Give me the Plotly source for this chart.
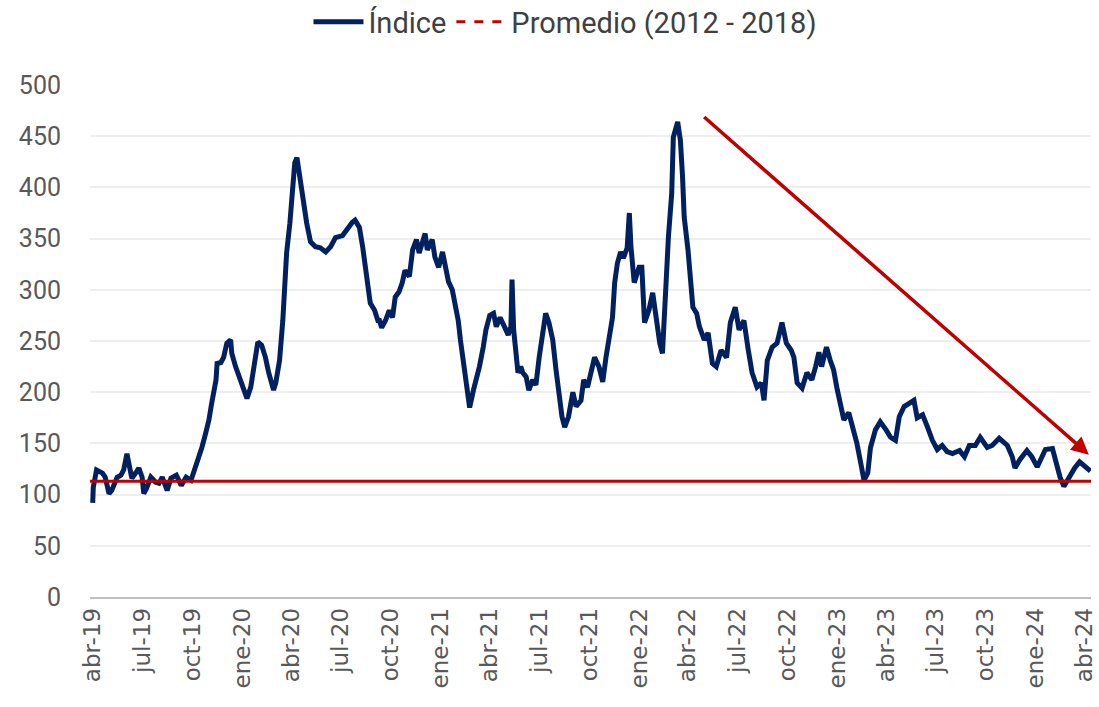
import plotly.graph_objects as go

# ---------------- data ----------------
fechas = [
    "2019-04-01", "2019-04-02", "2019-04-08", "2019-04-19", "2019-04-24", "2019-05-01", "2019-05-06",
    "2019-05-16", "2019-05-23", "2019-05-28", "2019-06-03", "2019-06-07", "2019-06-12", "2019-06-19",
    "2019-06-25", "2019-07-01", "2019-07-04", "2019-07-09", "2019-07-17", "2019-07-26", "2019-08-01",
    "2019-08-07", "2019-08-16", "2019-08-23", "2019-09-02", "2019-09-11", "2019-09-20", "2019-09-29",
    "2019-10-04", "2019-10-13", "2019-10-19", "2019-10-26", "2019-11-01", "2019-11-06", "2019-11-14",
    "2019-11-16", "2019-11-23", "2019-11-28", "2019-12-04", "2019-12-11", "2019-12-13", "2019-12-20",
    "2019-12-26", "2020-01-04", "2020-01-10", "2020-01-17", "2020-01-22", "2020-01-30", "2020-02-06",
    "2020-02-13", "2020-02-19", "2020-02-28", "2020-03-03", "2020-03-10", "2020-03-16", "2020-03-19",
    "2020-03-23", "2020-03-29", "2020-04-02", "2020-04-07", "2020-04-11", "2020-04-14", "2020-04-18",
    "2020-04-23", "2020-04-29", "2020-05-06", "2020-05-15", "2020-05-24", "2020-06-03", "2020-06-12",
    "2020-06-21", "2020-07-04", "2020-07-13", "2020-07-22", "2020-07-27", "2020-08-04", "2020-08-10",
    "2020-08-15", "2020-08-19", "2020-08-24", "2020-09-01", "2020-09-07", "2020-09-10", "2020-09-14",
    "2020-09-21", "2020-09-28", "2020-10-04", "2020-10-09", "2020-10-16", "2020-10-22", "2020-10-27",
    "2020-11-04", "2020-11-10", "2020-11-17", "2020-11-22", "2020-11-28", "2020-12-03", "2020-12-07",
    "2020-12-16", "2020-12-21", "2020-12-28", "2021-01-04", "2021-01-09", "2021-01-15", "2021-01-22",
    "2021-01-27", "2021-02-02", "2021-02-06", "2021-02-11", "2021-02-15", "2021-02-21", "2021-02-23",
    "2021-03-02", "2021-03-07", "2021-03-13", "2021-03-20", "2021-03-25", "2021-04-01", "2021-04-08",
    "2021-04-13", "2021-04-20", "2021-04-28", "2021-05-05", "2021-05-10", "2021-05-12", "2021-05-15",
    "2021-05-19", "2021-05-23", "2021-05-28", "2021-06-01", "2021-06-07", "2021-06-12", "2021-06-19",
    "2021-06-25", "2021-07-01", "2021-07-06", "2021-07-13", "2021-07-19", "2021-07-26", "2021-08-01",
    "2021-08-06", "2021-08-12", "2021-08-17", "2021-08-24", "2021-09-01", "2021-09-07", "2021-09-16",
    "2021-09-21", "2021-09-28", "2021-10-04", "2021-10-11", "2021-10-19", "2021-10-26", "2021-11-01",
    "2021-11-06", "2021-11-13", "2021-11-17", "2021-11-22", "2021-11-28", "2021-12-03", "2021-12-10",
    "2021-12-14", "2021-12-17", "2021-12-23", "2022-01-01", "2022-01-06", "2022-01-11", "2022-01-19",
    "2022-01-26", "2022-02-01", "2022-02-08", "2022-02-13", "2022-02-17", "2022-02-20", "2022-02-24",
    "2022-03-02", "2022-03-05", "2022-03-13", "2022-03-18", "2022-03-22", "2022-03-25", "2022-04-01",
    "2022-04-06", "2022-04-10", "2022-04-17", "2022-04-22", "2022-05-01", "2022-05-08", "2022-05-16",
    "2022-05-23", "2022-06-01", "2022-06-11", "2022-06-18", "2022-06-27", "2022-07-04", "2022-07-13",
    "2022-07-21", "2022-07-28", "2022-08-06", "2022-08-14", "2022-08-19", "2022-08-25", "2022-09-03",
    "2022-09-12", "2022-09-21", "2022-09-29", "2022-10-08", "2022-10-13", "2022-10-19", "2022-10-28",
    "2022-11-06", "2022-11-15", "2022-11-22", "2022-11-28", "2022-12-03", "2022-12-12", "2022-12-19",
    "2022-12-25", "2023-01-01", "2023-01-08", "2023-01-13", "2023-01-22", "2023-01-30", "2023-02-06",
    "2023-02-13", "2023-02-19", "2023-02-26", "2023-03-03", "2023-03-12", "2023-03-21", "2023-04-01",
    "2023-04-09", "2023-04-18", "2023-04-25", "2023-05-04", "2023-05-13", "2023-05-22", "2023-05-28",
    "2023-06-07", "2023-06-16", "2023-06-25", "2023-07-04", "2023-07-13", "2023-07-22", "2023-08-01",
    "2023-08-14", "2023-08-23", "2023-09-01", "2023-09-12", "2023-09-21", "2023-10-04", "2023-10-13",
    "2023-10-26", "2023-11-10", "2023-11-19", "2023-11-24", "2023-12-03", "2023-12-16", "2023-12-25",
    "2024-01-04", "2024-01-13", "2024-01-19", "2024-02-01", "2024-02-06", "2024-02-15", "2024-02-22",
    "2024-03-02", "2024-03-13", "2024-03-22", "2024-04-04", "2024-04-11",
]
indice = [
    92, 107, 124, 121, 117, 101, 104,
    117, 119, 124, 140, 130, 116, 121,
    126, 117, 101, 106, 117, 112, 111,
    117, 104, 116, 119, 109, 117, 114,
    122, 134, 146, 160, 173, 189, 212,
    228, 229, 234, 248, 251, 238, 225,
    215, 204, 194, 205, 225, 249, 246,
    234, 219, 202, 209, 231, 270, 297,
    336, 365, 394, 424, 429, 417, 400,
    388, 365, 347, 342, 341, 337, 342,
    351, 353, 360, 366, 368, 361, 342,
    319, 300, 287, 280, 270, 270, 263,
    270, 280, 273, 293, 298, 307, 319,
    313, 339, 349, 336, 346, 355, 339,
    349, 332, 322, 337, 322, 308, 300,
    287, 270, 251, 231, 215, 199, 185,
    202, 212, 225, 244, 261, 275, 277,
    264, 273, 264, 256, 264, 310, 261,
    244, 219, 225, 219, 215, 202, 212,
    207, 234, 254, 277, 268, 251, 222,
    199, 176, 166, 176, 200, 186, 192,
    212, 205, 219, 234, 225, 210, 234,
    251, 273, 307, 326, 337, 331, 341,
    375, 342, 307, 322, 322, 268, 280,
    297, 273, 248, 238, 277, 322, 352,
    394, 449, 464, 446, 410, 371, 339,
    303, 283, 277, 264, 251, 258, 228,
    225, 241, 234, 268, 283, 261, 270,
    241, 219, 205, 209, 192, 231, 244,
    248, 268, 248, 241, 234, 209, 204,
    219, 212, 225, 239, 225, 244, 231,
    222, 202, 183, 173, 180, 166, 150,
    131, 114, 121, 146, 163, 171, 163,
    156, 153, 176, 186, 189, 192, 175,
    178, 166, 153, 144, 148, 142, 140,
    143, 137, 148, 148, 156, 146, 148,
    155, 148, 137, 126, 134, 143, 137,
    127, 139, 144, 145, 135, 117, 108,
    117, 126, 132, 126, 123,
]

promedio_valor = 113
nombre_indice = "Índice"
nombre_promedio = "Promedio (2012 - 2018)"

tick_fechas = [
    "2019-04-01", "2019-07-01", "2019-10-01", "2020-01-01", "2020-04-01", "2020-07-01",
    "2020-10-01", "2021-01-01", "2021-04-01", "2021-07-01", "2021-10-01", "2022-01-01",
    "2022-04-01", "2022-07-01", "2022-10-01", "2023-01-01", "2023-04-01", "2023-07-01",
    "2023-10-01", "2024-01-01", "2024-04-01",
]
tick_labels = [
    "abr-19", "jul-19", "oct-19", "ene-20", "abr-20", "jul-20", "oct-20", "ene-21",
    "abr-21", "jul-21", "oct-21", "ene-22", "abr-22", "jul-22", "oct-22", "ene-23",
    "abr-23", "jul-23", "oct-23", "ene-24", "abr-24",
]
y_ticks = [0, 50, 100, 150, 200, 250, 300, 350, 400, 450, 500]

x_inicio = "2019-03-27"
x_fin = "2024-04-12"

NAVY = "#002060"
RED = "#C00000"
FONT = "Roboto, sans-serif"

fig = go.Figure()

fig.add_trace(go.Scatter(
    x=fechas, y=indice, mode="lines", name=nombre_indice,
    line=dict(color=NAVY, width=5), showlegend=True,
))
# legend entry for the average (dashed in legend)
fig.add_trace(go.Scatter(
    x=[None], y=[None], mode="lines", name=nombre_promedio,
    line=dict(color=RED, width=3, dash="dash"), showlegend=True,
))
fig.add_trace(go.Scatter(
    x=[x_inicio, x_fin], y=[promedio_valor, promedio_valor], mode="lines",
    name=nombre_promedio, line=dict(color=RED, width=3), showlegend=False,
))

fig.add_annotation(
    x="2024-04-08", y=139, ax="2022-04-28", ay=470,
    xref="x", yref="y", axref="x", ayref="y",
    showarrow=True, arrowhead=2, arrowsize=1, arrowwidth=3.5, arrowcolor=RED, text="",
)

fig.update_layout(
    width=1099, height=707,
    margin=dict(l=90, r=8, t=85, b=110, autoexpand=False),
    paper_bgcolor="white", plot_bgcolor="white",
    font=dict(family=FONT, color="#595959"),
    legend=dict(
        orientation="h", x=0.475, xanchor="center", y=1.123, yanchor="middle",
        font=dict(size=29, color="#404040", family=FONT), itemwidth=50,
        bgcolor="rgba(0,0,0,0)",
    ),
)
fig.update_xaxes(
    range=[x_inicio, x_fin], tickmode="array", tickvals=tick_fechas, ticktext=tick_labels,
    tickangle=-90, tickfont=dict(size=23, color="#595959", family="DejaVu Sans, sans-serif"),
    showgrid=False, showline=True, linecolor="#BFBFBF", linewidth=1.5, ticks="",
    zeroline=False, automargin=False, ticklabeloverflow="allow",
)
fig.update_yaxes(
    range=[0, 500], tickmode="array", tickvals=y_ticks,
    tickfont=dict(size=25, color="#595959", family=FONT),
    showgrid=True, gridcolor="#EEEEEE", gridwidth=1.5, zeroline=False,
    ticks="", ticklabelstandoff=28, automargin=False,
)

fig.write_html(
    "out.html",
    config={"displayModeBar": False},
    post_script="document.body.style.margin='0px'; document.body.style.overflow='hidden';",
)
